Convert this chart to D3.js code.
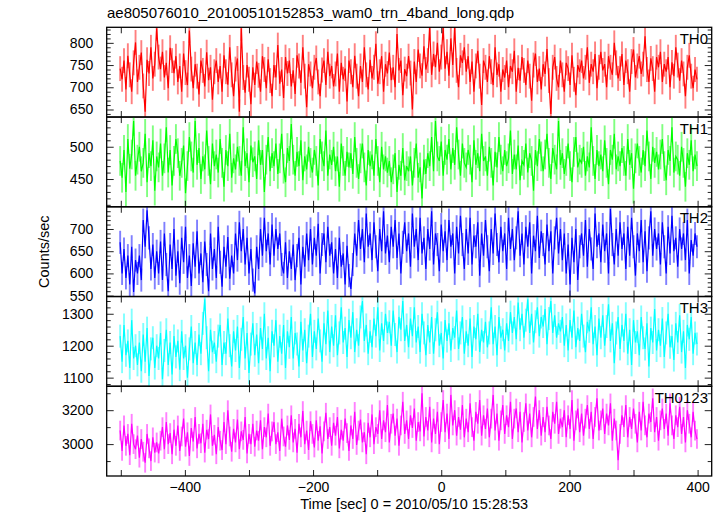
<!DOCTYPE html>
<html><head><meta charset="utf-8">
<script src="https://cdn.jsdelivr.net/npm/d3@7"></script>
<style>body{margin:0;background:#fff;} svg{display:block;font-family:"Liberation Sans",Arial,Helvetica,sans-serif;}</style>
</head><body><svg id="c" width="724" height="516"></svg>
<script>
const title = "ae805076010_20100510152853_wam0_trn_4band_long.qdp";
const xLabel = "Time [sec] 0 = 2010/05/10 15:28:53";
const yLabel = "Counts/sec";
const bandNames = ["TH0", "TH1", "TH2", "TH3", "TH0123"];
const bandColors = ["#ff0000", "#00ff00", "#0000ff", "#00ffff", "#ff00ff"];
const timeStart = -501, binSec = 3;

const th0 = [742,718,760,695,771,728,690,755,801,712,
745,778,703,645,762,731,790,720,752,833,
768,741,780,722,755,698,789,760,732,770,
712,748,690,776,733,705,828,741,698,752,
725,684,760,738,702,779,716,745,672,735,
760,712,748,690,772,735,706,790,728,680,
741,765,645,833,722,688,750,718,662,745,
705,758,727,690,770,740,698,763,715,680,
750,722,795,708,740,676,768,731,760,702,
738,685,772,748,710,790,725,655,752,730,
698,745,766,712,680,739,760,705,780,725,
748,702,730,776,690,755,718,742,668,760,
735,700,771,725,680,748,712,790,728,695,
762,720,745,798,708,735,770,690,752,731,
778,716,745,700,820,738,760,682,741,725,
770,732,650,758,712,785,748,726,792,740,
760,835,728,775,745,800,735,768,835,742,
780,726,810,750,835,738,700,772,755,790,
735,770,712,758,690,748,782,725,660,760,
745,712,770,735,705,790,728,752,690,740,
722,760,700,748,735,782,690,744,715,768,
738,705,760,725,670,750,776,712,742,695,
752,730,786,715,640,745,768,720,700,760,
728,690,755,742,705,772,718,682,750,735,
760,720,745,790,710,752,735,775,698,745,
780,738,752,700,770,745,728,800,755,720,
742,775,705,760,735,690,758,785,722,748,
770,730,752,815,740,712,765,742,690,768,
745,780,712,752,735,768,700,756,725,790,
750,715,760,730,680,745,772,725,698,740,
718];

const th1 = [478,452,495,430,512,466,488,540,455,480,
500,462,475,520,445,490,470,510,432,485,
468,505,455,482,530,460,495,440,478,512,
490,455,475,502,428,470,515,485,460,540,
472,498,450,485,465,525,478,442,505,470,
488,460,512,475,438,495,470,520,452,482,
465,500,478,455,530,470,490,445,502,476,
485,450,510,472,495,430,480,515,462,490,
470,505,458,482,520,466,445,498,478,535,
480,455,492,470,510,448,485,465,500,475,
460,495,478,440,512,485,470,525,455,488,
472,500,462,485,438,505,478,455,492,468,
490,458,515,475,450,482,505,468,440,495,
470,488,455,512,478,445,500,465,485,460,
478,445,465,490,430,472,455,498,448,470,
462,485,440,475,505,452,468,420,480,458,
490,470,515,462,540,485,478,508,455,495,
480,512,465,498,472,530,488,455,505,475,
468,495,480,445,510,472,490,462,520,478,
485,455,500,475,440,492,468,515,480,462,
495,470,482,525,458,488,465,502,448,478,
472,505,460,490,478,432,495,470,512,485,
462,488,520,475,450,498,480,465,540,472,
490,458,478,505,470,445,492,515,468,480,
475,500,455,485,468,530,478,450,495,470,
488,462,510,475,442,495,480,520,465,485,
470,498,478,455,512,472,490,435,482,505,
478,460,495,470,525,485,450,500,475,492,
465,488,512,470,448,495,478,530,460,485,
480,455,500,475,438,490,472,510,462,488,
470];

const th2 = [670,600,655,590,640,575,660,558,630,600,
640,585,720,660,742,680,610,665,590,650,
600,672,585,690,620,560,665,610,700,595,
650,578,680,625,705,590,640,572,668,615,
695,600,645,580,672,620,560,690,610,655,
590,705,625,570,660,615,682,588,640,600,
690,630,715,650,700,620,680,600,655,585,
555,660,610,700,640,725,650,690,620,710,
640,700,655,690,620,600,670,590,650,610,
665,585,640,680,575,660,615,690,630,700,
620,680,640,712,600,665,690,625,705,640,
670,600,655,590,680,615,645,575,662,595,
565,620,690,640,720,655,700,625,735,660,
690,630,715,660,605,700,650,740,645,685,
625,705,660,720,635,690,600,670,715,650,
690,615,735,660,700,630,725,645,680,610,
700,655,740,620,690,665,605,710,650,695,
630,720,660,690,600,705,645,730,665,610,
700,645,725,620,685,660,715,595,690,640,
720,660,605,700,645,735,665,625,705,650,
690,610,725,655,700,630,680,740,640,690,
620,705,660,715,600,685,650,730,635,695,
665,620,710,650,695,600,680,725,645,700,
630,690,600,665,575,680,625,700,585,660,
690,640,720,615,700,655,610,735,660,690,
625,710,650,690,600,745,665,620,700,640,
715,655,690,610,705,640,725,660,595,690,
650,720,625,695,605,680,740,640,700,655,
690,620,715,660,600,705,645,730,650,680,
615,700,655,690,630,720,600,675,640,690,
660];

const th3 = [1230,1150,1265,1170,1215,1130,1280,1160,1200,1140,
1210,1120,1235,1150,1255,1105,1190,1225,1130,1200,
1160,1240,1095,1185,1250,1140,1210,1110,1230,1165,
1215,1125,1245,1160,1200,1100,1190,1260,1145,1210,
1140,1235,1175,1270,1345,1225,1120,1250,1180,1210,
1150,1230,1265,1140,1210,1175,1285,1200,1135,1245,
1185,1260,1130,1220,1290,1160,1240,1115,1205,1270,
1170,1235,1145,1255,1190,1300,1160,1225,1120,1245,
1200,1280,1150,1230,1175,1265,1130,1245,1195,1290,
1160,1240,1205,1135,1275,1185,1250,1145,1230,1300,
1165,1245,1190,1285,1215,1150,1270,1205,1310,1180,
1260,1200,1295,1170,1240,1320,1210,1255,1165,1280,
1225,1305,1180,1250,1200,1290,1340,1215,1265,1175,
1245,1195,1285,1230,1320,1185,1270,1215,1300,1240,
1275,1200,1310,1235,1180,1290,1250,1340,1215,1265,
1195,1285,1230,1320,1210,1260,1180,1300,1240,1170,
1265,1210,1290,1175,1250,1305,1200,1240,1160,1280,
1215,1270,1185,1255,1225,1310,1190,1240,1290,1175,
1245,1200,1285,1165,1260,1220,1300,1180,1250,1210,
1275,1195,1240,1320,1205,1260,1170,1290,1225,1250,
1185,1270,1215,1305,1240,1290,1220,1335,1250,1300,
1225,1280,1345,1240,1300,1210,1275,1320,1230,1290,
1260,1315,1205,1285,1340,1240,1295,1225,1270,1245,
1290,1200,1265,1185,1280,1225,1310,1195,1255,1215,
1300,1230,1180,1275,1245,1320,1205,1260,1170,1285,
1225,1295,1200,1260,1330,1215,1270,1145,1240,1290,
1190,1265,1215,1300,1175,1250,1140,1280,1210,1245,
1170,1290,1225,1190,1270,1135,1255,1210,1315,1185,
1250,1200,1285,1165,1240,1300,1195,1230,1155,1270,
1210,1295,1180,1245,1130,1265,1220,1290,1175,1240,
1205];

const th0123 = [3080,2960,3110,2990,3060,2935,3120,3000,2970,3050,
2920,3030,2955,2890,3060,2975,2900,3040,2950,3010,
2945,3020,3100,2970,3130,3000,3065,2940,3085,2990,
3110,2960,3045,3150,2985,3070,2930,3095,3015,3160,
2975,3060,3005,3120,2950,3085,3030,3175,2990,3055,
2940,3100,3020,2965,3130,3000,3200,3045,2955,3090,
3010,3145,2970,3075,3025,3160,2945,3060,3000,3120,
2985,3080,3020,3140,2970,3100,3040,3180,2990,3075,
3130,3000,3070,2960,3150,3045,2985,3110,3025,3170,
3010,3090,2950,3120,3040,3195,3000,3080,2965,3135,
3060,2980,3140,3020,3105,2945,3075,3185,3030,3100,
2990,3125,3050,3160,2975,3085,3020,3150,3065,2960,
3110,3030,3190,2995,3080,3145,3010,3070,2940,3125,
3040,3175,3000,3100,3060,3200,3030,3140,3070,3230,
3010,3120,3180,3050,3150,2990,3110,3250,3060,3140,
3030,3170,3095,3210,3020,3130,3075,3300,3045,3160,
3080,3220,3010,3150,3060,3190,3000,3130,3260,3070,
3180,3030,3290,3110,3200,3050,3160,3085,3230,3040,
3150,3070,3240,3100,3020,3190,3120,3260,3050,3170,
3090,3210,3040,3150,3290,3080,3180,3020,3140,3230,
3060,3170,3100,3250,3030,3150,3210,3070,3190,3010,
3130,3240,3080,3180,3040,3160,3280,3090,3200,3050,
3160,3070,3220,3110,3030,3190,3120,3250,3060,3150,
3100,3200,3040,3170,3090,3260,3020,3140,3210,3070,
3180,3050,3150,3230,3090,3190,3030,3160,3270,3080,
3140,3210,3060,3180,3110,3240,3020,3150,3080,2905,
3060,3170,3100,3230,3040,3160,3090,3210,3120,3010,
3190,3080,3250,3110,3040,3180,3130,3270,3070,3160,
3020,3140,3210,3090,3180,3050,3240,3110,3030,3170,
3100,3220,3060,3160,3010,3200,3120,3040,3190,3080,
3030];

const bandValues = [th0, th1, th2, th3, th0123];
const bandErr = [28, 23, 26, 36, 58];
const yDomains = [[633, 835], [407, 546], [548, 750], [1073, 1354], [2812, 3341]];
const yMajorTicks = [[650, 700, 750, 800], [450, 500], [550, 600, 650, 700], [1100, 1200, 1300], [3000, 3200]];
const yMinorStep = [10, 10, 10, 20, 100];
const xDomain = [-522, 422];
const xMajorTicks = [-400, -200, 0, 200, 400];
const xTickLabels = ["\u2212400", "\u2212200", "0", "200", "400"];
const xMinorTicks = [-500, -300, -100, 100, 300];

const svg = d3.select("#c");
const L = 106.7, R = 711.7, T = 27.3, B = 476;
const nP = bandNames.length;
const ph = (B - T) / nP;
const x = d3.scaleLinear().domain(xDomain).range([L, R]);
const FS = 14;

svg.append("text").attr("x", 107).attr("y", 18).attr("font-size", 15).attr("fill", "#000").text(title);

bandValues.forEach((vals, k) => {
  const top = T + k * ph, bot = top + ph;
  const y = d3.scaleLinear().domain(yDomains[k]).range([bot, top]);
  const color = bandColors[k];
  const err = bandErr[k];
  const cid = "clip" + k;
  svg.append("clipPath").attr("id", cid).append("rect")
    .attr("x", L).attr("y", top).attr("width", R - L).attr("height", ph);
  const g = svg.append("g").attr("clip-path", `url(#${cid})`);
  const pts = vals.map((v, i) => ({t: timeStart + i * binSec, v}));
  const eg = g.append("g").attr("opacity", 0.5);
  eg.selectAll("line").data(pts).join("line")
    .attr("x1", d => x(d.t)).attr("x2", d => x(d.t))
    .attr("y1", d => y(d.v - err)).attr("y2", d => y(d.v + err))
    .attr("stroke", color).attr("stroke-width", 1.9);
  g.append("path").datum(pts)
    .attr("d", d3.line().x(d => x(d.t)).y(d => y(d.v)))
    .attr("fill", "none").attr("stroke", color).attr("stroke-width", 1.2);

  const [d0, d1] = yDomains[k];
  const step = yMinorStep[k];
  const minor = d3.range(Math.ceil(d0 / step) * step, d1, step).filter(v => !yMajorTicks[k].includes(v));
  const axStyle = sel => { sel.select(".domain").remove(); sel.selectAll("line").attr("stroke", "#222").attr("stroke-width", 1); sel.selectAll("text").attr("font-size", FS).attr("font-family", null).attr("fill", "#000"); };
  svg.append("g").attr("transform", `translate(${L},0)`)
    .call(d3.axisLeft(y).tickValues(yMajorTicks[k]).tickSize(-7).tickPadding(13.5).tickFormat(d3.format("d"))).call(axStyle);
  svg.append("g").attr("transform", `translate(${L},0)`)
    .call(d3.axisLeft(y).tickValues(minor).tickSize(-4).tickFormat("")).call(axStyle);
  svg.append("g").attr("transform", `translate(${R},0)`)
    .call(d3.axisRight(y).tickValues(yMajorTicks[k]).tickSize(-7).tickFormat("")).call(axStyle);
  svg.append("g").attr("transform", `translate(${R},0)`)
    .call(d3.axisRight(y).tickValues(minor).tickSize(-4).tickFormat("")).call(axStyle);
  const xt = xMajorTicks.concat(xMinorTicks);
  svg.append("g").attr("transform", `translate(0,${top})`)
    .call(d3.axisTop(x).tickValues(xt).tickSize(-6).tickFormat("")).call(axStyle);
  const bx = d3.axisBottom(x).tickValues(xt).tickSize(-6).tickPadding(6.5);
  if (k === nP - 1) {
    bx.tickFormat(d => { const j = xMajorTicks.indexOf(d); return j >= 0 ? xTickLabels[j] : ""; });
  } else bx.tickFormat("");
  svg.append("g").attr("transform", `translate(0,${bot})`).call(bx).call(axStyle);

  svg.append("rect").attr("x", L).attr("y", top).attr("width", R - L).attr("height", ph)
    .attr("fill", "none").attr("stroke", "#000").attr("stroke-width", 1.3);
  svg.append("text").attr("x", 708).attr("y", top + 16.5).attr("text-anchor", "end")
    .attr("font-size", 15).attr("fill", "#000").text(bandNames[k]);
});

svg.append("text").attr("x", (L + R) / 2 + 5).attr("y", 509).attr("text-anchor", "middle")
  .attr("font-size", 14.5).attr("fill", "#000").text(xLabel);
svg.append("text").attr("transform", `translate(48.5,${(T + B) / 2}) rotate(-90)`)
  .attr("text-anchor", "middle").attr("font-size", 14.5).attr("fill", "#000").text(yLabel);
</script></body></html>
